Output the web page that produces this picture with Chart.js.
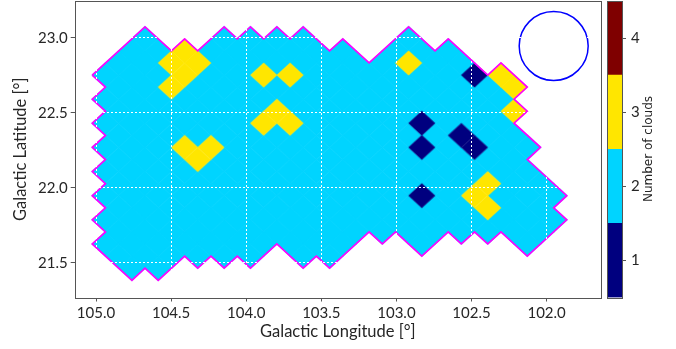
<!DOCTYPE html>
<html>
<head>
<meta charset="utf-8">
<script src="https://cdn.jsdelivr.net/npm/chart.js@4"></script>
<style>
html,body{margin:0;padding:0;background:#fff;overflow:hidden}
#wrap{position:relative;width:676px;height:349px}
canvas{position:absolute;top:0}
</style>
</head>
<body>
<div id="wrap">
<canvas id="map" width="676" height="349" style="left:0"></canvas>
<canvas id="bar" width="76" height="349" style="left:600px"></canvas>
</div>
<script>
// Longitude of each cell column and latitude of each cell row
const columnLon = [105.025,104.937,104.849,104.761,104.674,104.586,104.498,104.410,104.323,104.235,104.147,104.059,103.972,103.884,103.796,103.708,103.621,103.533,103.445,103.357,103.270,103.182,103.094,103.006,102.919,102.831,102.743,102.655,102.568,102.480,102.392,102.304,102.217,102.129,102.041,101.953,101.866];
const rowLat = [22.993,22.912,22.832,22.751,22.671,22.590,22.510,22.430,22.349,22.269,22.188,22.108,22.027,21.947,21.866,21.786,21.705,21.625,21.544,21.464];
// Number of clouds in each cell, one string per row ('.' = not mapped)
const cloudCounts = [
"....2.....2.2.2.2.......2............",
"...2.2.3.2.2.2.2.2.2...2.2.2.........",
"..2.2.3.3.2.2.2.2.2.2.2.3.2.2........",
".2.2.2.3.2.2.3.3.2.2.2.2.2.2.1.3.....",
"..2.2.3.2.2.2.2.2.2.2.2.2.2.2.2.3....",
".2.2.2.2.2.2.2.2.2.2.2.2.2.2.2.2.....",
"..2.2.2.2.2.2.3.2.2.2.2.2.2.2.2.3....",
".2.2.2.2.2.2.3.3.2.2.2.2.1.2.2.2.....",
"..2.2.2.2.2.2.2.2.2.2.2.2.2.1.2.2....",
".2.2.2.3.3.2.2.2.2.2.2.2.1.2.1.2.2...",
"..2.2.2.3.2.2.2.2.2.2.2.2.2.2.2.2....",
".2.2.2.2.2.2.2.2.2.2.2.2.2.2.2.2.2...",
"..2.2.2.2.2.2.2.2.2.2.2.2.2.2.3.2.2..",
".2.2.2.2.2.2.2.2.2.2.2.2.1.2.3.2.2.2.",
"..2.2.2.2.2.2.2.2.2.2.2.2.2.2.3.2.2..",
".2.2.2.2.2.2.2.2.2.2.2.2.2.2.2.2.2.2.",
"..2.2.2.2.2.2.2.2.2.2.2.2.2.2.2.2.2..",
".2.2.2.2.2.2.2.2.2.2.....2.......2...",
"..2.2.2.2.2.2...2.2..................",
"...2.2..............................."
];
// Outline of the mapped region
const outlineLon = [105.025,104.674,104.498,104.410,104.323,104.147,104.059,103.972,103.884,103.796,103.708,103.621,103.445,103.357,103.182,102.919,102.743,102.655,102.392,102.304,102.129,102.217,102.129,102.217,102.041,102.129,101.866,101.953,101.866,102.129,102.304,102.392,102.480,102.568,102.655,102.831,103.006,103.094,103.182,103.445,103.533,103.621,103.796,103.972,104.059,104.147,104.235,104.323,104.410,104.586,104.674,104.761,105.025,104.937,105.025,104.937,105.025,104.937,105.025,104.937,105.025,104.937,105.025,104.937,105.025,104.937,105.025];
const outlineLat = [22.751,23.073,22.912,22.993,22.912,23.073,22.993,23.073,22.993,23.073,22.993,23.073,22.912,22.993,22.832,23.073,22.912,22.993,22.751,22.832,22.671,22.590,22.510,22.430,22.269,22.188,21.947,21.866,21.786,21.544,21.705,21.625,21.705,21.625,21.705,21.544,21.705,21.625,21.705,21.464,21.544,21.464,21.625,21.464,21.544,21.464,21.544,21.464,21.544,21.383,21.464,21.383,21.625,21.705,21.786,21.866,21.947,22.027,22.108,22.188,22.269,22.349,22.430,22.510,22.590,22.671,22.751];
// Beam marker
const beamLon = [101.953];
const beamLat = [22.945];
// Axis ticks and colour levels
const lonTicks = [105.0,104.5,104.0,103.5,103.0,102.5,102.0];
const latTicks = [21.5,22.0,22.5,23.0];
const levels = [1,2,3,4];
const levelColors = ['#00007f','#00d4ff','#ffe600','#7f0000'];

Chart.defaults.animation = false;
Chart.defaults.devicePixelRatio = 1;
const TICK_FONT = {family:'Lato', size:15};
const TEXT = '#262626', SPINE = '#555555';

function diamond(color, grow){
  const w = 30, h = 28, c = document.createElement('canvas');
  c.width = w; c.height = h;
  const g = c.getContext('2d');
  const hw = 13.2 + grow, hh = 12.1 + grow;
  g.fillStyle = color;
  g.beginPath();
  g.moveTo(w/2-hw,h/2); g.lineTo(w/2,h/2-hh); g.lineTo(w/2+hw,h/2); g.lineTo(w/2,h/2+hh);
  g.closePath(); g.fill();
  return c;
}
function cellsOf(level){
  const pts = [];
  cloudCounts.forEach((row,r)=>{
    [...row].forEach((ch,c)=>{ if(ch===String(level)) pts.push({x:columnLon[c],y:rowLat[r]}); });
  });
  return pts;
}
function noEdgePadding(s){ s.paddingTop = 0; s.paddingBottom = 0; s.paddingLeft = 0; s.paddingRight = 0; }
const frame = {
  id:'frame',
  afterDraw(chart){
    const a = chart.chartArea, g = chart.ctx;
    g.save(); g.strokeStyle = SPINE; g.lineWidth = 1;
    g.strokeRect(Math.round(a.left)+.5, Math.round(a.top)+.5, Math.round(a.right-a.left), Math.round(a.bottom-a.top));
    g.restore();
  }
};

new Chart(document.getElementById('map'),{
  type:'scatter',
  data:{datasets:[
    {label:'2 clouds',order:5,data:cellsOf(2),pointStyle:diamond(levelColors[1],0.7),pointRadius:13,pointHoverRadius:13,showLine:false},
    {label:'3 clouds',order:4,data:cellsOf(3),pointStyle:diamond(levelColors[2],0.35),pointRadius:13,pointHoverRadius:13,showLine:false},
    {label:'1 cloud',order:3,data:cellsOf(1),pointStyle:diamond(levelColors[0],0.35),pointRadius:13,pointHoverRadius:13,showLine:false},
    {label:'outline',order:2,data:outlineLon.map((x,i)=>({x,y:outlineLat[i]})),showLine:true,borderColor:'#ff00ff',borderWidth:1.7,pointRadius:0,tension:0,fill:false},
    {label:'beam',order:1,data:beamLon.map((x,i)=>({x,y:beamLat[i]})),pointStyle:'circle',pointRadius:34.5,pointBackgroundColor:'rgba(0,0,0,0)',pointBorderColor:'#0000ff',pointBorderWidth:1.5,showLine:false}
  ]},
  options:{
    responsive:false,
    layout:{autoPadding:false,padding:{left:0,right:75,top:1,bottom:0}},
    plugins:{legend:{display:false},tooltip:{enabled:false}},
    scales:{
      x:{
        type:'linear',reverse:true,min:101.638,max:105.142,
        afterBuildTicks(s){s.ticks = lonTicks.map(v=>({value:v}));},
        afterFit(s){s.height = 51.5; noEdgePadding(s);},
        grid:{z:1,color:'#ffffff',lineWidth:1,tickColor:SPINE,tickLength:4,tickBorderDash:[],tickWidth:1},
        border:{display:false,dash:[2,2]},
        ticks:{font:TICK_FONT,color:TEXT,padding:3,maxRotation:0,autoSkip:false,callback:v=>v.toFixed(1)},
        title:{display:true,text:'Galactic Longitude [°]',font:{family:'Lato',size:16.5},color:TEXT,padding:{top:0,bottom:7}}
      },
      y:{
        type:'linear',min:21.268,max:23.245,
        afterBuildTicks(s){s.ticks = latTicks.map(v=>({value:v}));},
        afterFit(s){s.width = 74.7; noEdgePadding(s);},
        grid:{z:1,color:'#ffffff',lineWidth:1,tickColor:SPINE,tickLength:4,tickBorderDash:[],tickWidth:1},
        border:{display:false,dash:[2,2]},
        ticks:{font:TICK_FONT,color:TEXT,padding:3,autoSkip:false,callback:v=>v.toFixed(1)},
        title:{display:true,text:'Galactic Latitude [°]',font:{family:'Lato',size:16.5},color:TEXT,padding:{top:11,bottom:0}}
      }
    }
  },
  plugins:[frame]
});

const barTitle = {
  id:'barTitle',
  afterDraw(chart){
    const g = chart.ctx;
    g.save();
    g.translate(48.5,149);
    g.rotate(-Math.PI/2);
    g.font = '12px "DejaVu Sans"';
    g.fillStyle = TEXT; g.textAlign='center'; g.textBaseline='middle';
    g.fillText('Number of clouds',0,0);
    g.restore();
  }
};
new Chart(document.getElementById('bar'),{
  type:'bar',
  data:{
    labels:['clouds'],
    datasets:levels.map((v,i)=>({label:String(v),data:[[v-0.5,v+0.5]],backgroundColor:levelColors[i],borderWidth:0,barPercentage:1,categoryPercentage:1,grouped:false}))
  },
  options:{
    responsive:false,
    layout:{autoPadding:false,padding:{left:7.3,right:0,top:1,bottom:51.5}},
    plugins:{legend:{display:false},tooltip:{enabled:false}},
    scales:{
      x:{display:false},
      y:{
        position:'right',min:0.5,max:4.5,
        afterBuildTicks(s){s.ticks = levels.map(v=>({value:v}));},
        afterFit(s){s.width = 54; noEdgePadding(s);},
        grid:{drawOnChartArea:false,tickColor:SPINE,tickLength:4,tickWidth:1},
        border:{display:false},
        ticks:{font:TICK_FONT,color:TEXT,padding:5,autoSkip:false,callback:v=>String(v)}
      }
    }
  },
  plugins:[frame,barTitle]
});
</script>
</body>
</html>
